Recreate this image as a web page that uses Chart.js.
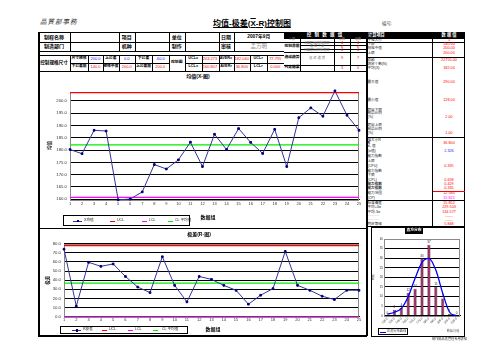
<!DOCTYPE html>
<html><head><meta charset="utf-8">
<script src="https://cdn.jsdelivr.net/npm/chart.js@4.4.0/dist/chart.umd.min.js"></script>
<style>
html,body{margin:0;padding:0;background:#fff;}
#page{position:relative;width:503px;height:356px;overflow:hidden;font-family:"Liberation Sans","Noto Sans CJK SC",sans-serif;color:#000;}
#page div{box-sizing:border-box;}
canvas{position:absolute;}
</style></head><body><div id="page">
<canvas id="cx" width="324" height="130" style="left:40px;top:86px;width:324px;height:130px"></canvas>
<canvas id="cr" width="324" height="92" style="left:40px;top:238px;width:324px;height:92px"></canvas>
<canvas id="ch" width="93" height="96" style="left:371px;top:234px;width:93px;height:96px"></canvas>
</div>
<script>
// ---------------- data ----------------
const sampleNo = ['1','2','3','4','5','6','7','8','9','10','11','12','13','14','15','16','17','18','19','20','21','22','23','24','25'];
const xbarValues = [180.2,178.5,188.0,187.7,159.8,160.1,163.0,174.1,172.3,176.0,183.2,173.3,186.4,180.2,188.7,183.1,178.6,188.4,173.3,193.1,197.1,193.7,204.0,194.1,188.0];
const xbarUCL = 203.273, xbarCL = 182.040, xbarLCL = 160.807;
const xbarTicks = [160,165,170,175,180,185,190,195,200];
const rangeValues = [73.9,11.6,59.5,55.1,57.7,44.0,32.4,26.4,65.6,34.3,16.2,44.0,40.8,34.3,28.9,13.7,23.5,30.7,71.4,34.3,28.9,22.4,18.8,28.9,28.9];
const rangeUCL = 77.795, rangeCL = 36.800, rangeLCL = 0;
const rangeTicks = [0,10,20,30,40,50,60,70,80];
const histBins = ['125.0','135.0','145.0','155.0','165.0','175.0','185.0','195.0','205.0','215.0','225.0'];
const histCounts = [0,3,4,12,14,30,37,15,9,1,0];
const normalCurve = [0.7,1.8,3.8,9.9,19.5,27.8,29.9,23.8,11.7,1.8,0];
const histTicks = [0,5,10,15,20,25,30,35,40];
const xLegendLabels = ['X均值','UCL','LCL','CL 平均值'];
const rLegendLabels = ['R极差','UCL','LCL','CL 平均值'];

// ---------------- layout helpers ----------------
const P = document.getElementById('page');
function el(x,y,w,h,html,css){const d=document.createElement('div');d.style.cssText=`position:absolute;left:${x}px;top:${y}px;width:${w}px;height:${h}px;${css||''}`;d.innerHTML=html||'';P.appendChild(d);return d;}
function hl(x1,x2,y,t,c){el(x1,y,x2-x1,t||1,'',`background:${c||'#000'}`);}
function vl(x,y1,y2,t,c){el(x,y1,t||1,y2-y1,'',`background:${c||'#000'}`);}
function tc(x1,y1,x2,y2,text,css){el(x1,y1,x2-x1,y2-y1,text,`display:flex;align-items:center;justify-content:center;white-space:nowrap;line-height:1;${css||''}`);}
function tl(x,y,text,css){el(x,y,80,5,text,`white-space:nowrap;line-height:1;${css||''}`);}
const B='font-weight:bold;font-size:5px;';
const R='font-size:4px;color:#f00;';
const BL='font-size:4px;color:#22f;';
const S='font-weight:bold;font-size:3.8px;';

// header
tl(40,19,'品質部事務','font-style:italic;font-size:6.5px;letter-spacing:1px;color:#333;');
tc(190,18,314,30,'<span style="text-decoration:underline">均值-极差(<span style="text-decoration:overline">X</span>-R)控制图</span>','font-weight:bold;font-size:8px;');
tl(382,22,'编号:','font-size:4.5px;color:#444;');

// left form table
hl(38,284,32);hl(38,284,42);hl(38,284,51);hl(38,284,55);hl(70,168.5,63);hl(185,284,63);
vl(38,32,336,1.5);
[70,118.5,135,168.5,185,218.5,233.5].forEach(x=>vl(x,32,51));
[70,88,103,118.5,135,152,168.5,185,201.5,218.5,233.5,250,266.5].forEach(x=>vl(x,55,71));
tc(38,32,70,42,'制程名称',B);tc(118.5,32,135,42,'项目',B);tc(168.5,32,185,42,'单位',B);tc(218.5,32,233.5,42,'日期',B);
tc(233.5,32,284,42,'2007年9月','font-weight:bold;font-size:4.8px;');
tc(38,42,70,51,'制造部门',B);tc(118.5,42,135,51,'机种',B);tc(168.5,42,185,51,'制作',B);tc(218.5,42,233.5,51,'审核',B);
tc(233.5,42,284,51,'孟万明','font-size:5.5px;color:#888;');
tc(38,55,70,71,'控制规格尺寸','font-weight:bold;font-size:4.6px;');
tc(70,55,88,63,'尺寸规格',S);tc(88,55,103,63,'200.0',BL);tc(103,55,118.5,63,'上公差',S);tc(118.5,55,135,63,'0.0',BL);
tc(135,55,152,63,'下公差',S);tc(152,55,168.5,63,'-60.0',BL);
tc(70,63,88,71,'下公差限',S);tc(88,63,103,71,'140.0',R);tc(103,63,118.5,71,'规格中值',S);tc(118.5,63,135,71,'200.0',R);
tc(135,63,152,71,'上公差限',S);tc(152,63,168.5,71,'200.0',R);
tc(168.5,55,185,71,'控制图',S);
tc(185,55,201.5,63,'UCLx',S);tc(201.5,55,218.5,63,xbarUCL.toFixed(3),R);tc(218.5,55,233.5,63,'AVERx',S);tc(233.5,55,250,63,xbarCL.toFixed(3),R);
tc(250,55,266.5,63,'UCLr',S);tc(266.5,55,284,63,rangeUCL.toFixed(3),R);
tc(185,63,201.5,71,'LCLx',S);tc(201.5,63,218.5,71,xbarLCL.toFixed(3),R);tc(218.5,63,233.5,71,'AVERr',S);tc(233.5,63,250,71,rangeCL.toFixed(3),R);
tc(250,63,266.5,71,'LCLr',S);tc(266.5,63,284,71,rangeLCL.toFixed(3),R);

// control data panel
el(284,32,82,6.5,'','background:#000');
tc(284,32,366,38.5,'控 制 数 据 组','font-weight:bold;font-size:4.5px;color:#fff;letter-spacing:1px;');
hl(284,366,41.5);hl(300,366,45);hl(300,366,48.5);hl(284,366,52);hl(284,366,64.5);hl(284,366,71);
[300,334,350].forEach(x=>vl(x,38.5,71));vl(366,32,336,1.5);
const G='font-size:3.3px;color:#777;';
tc(284,38.5,300,41.5,'上限',G);tc(334,38.5,350,41.5,'点数',G);tc(350,38.5,366,41.5,'组数',G);
tc(284,41.5,300,52,'控制界限',S);tc(284,52,300,64.5,'连续趋势',S);tc(284,64.5,300,71,'判定结果',S);
tc(300,41.5,334,45,'X图超出控制界限',G);tc(300,45,334,48.5,'连 续 7 点',G);tc(300,48.5,334,52,'R图超出控制界限',G);tc(300,52,334,64.5,'连 续 递 增',G);
[[41.5,45,'4','4'],[45,48.5,'6','6'],[48.5,52,'4','4'],[52,64.5,'9','7'],[64.5,71,'3','0']].forEach(r=>{tc(334,r[0],350,r[1],r[2],R);tc(350,r[0],366,r[1],r[3],R);});

// right calculation column
el(366,32,99,195,'','border:1px solid #000');
el(366,32,66,6.5,'','background:#000');el(433,32,32,6.5,'','background:#000');
tc(366,32,432,38.5,'计算项目','font-weight:bold;font-size:4.2px;color:#fff;justify-content:flex-start;padding-left:2px;');
tc(433,32,465,38.5,'数 据 值','font-weight:bold;font-size:4.2px;color:#fff;');
vl(432,32,227);hl(366,465,42);hl(366,465,56.5);hl(366,465,137);hl(366,465,200);
const rows=[[38.8,'子组大小','5'],[43,'下限','140.00'],[46.8,'规格中值','200.00'],[51.5,'上限','200.00'],[58.8,'总和','22755.00'],[62.5,'测定个数(N)',''],[66.8,'平均(X)','182.04'],
[80.5,'最大值','290.00'],[98.8,'最小值','128.00'],[108.5,'超出下限',''],[112.2,'制品比例',''],[116,'(%)','2.00'],[124,'超出上限',''],[127.7,'制品比例',''],[131.5,'(%)','1.00'],
[138.5,'组大小R',''],[141.5,'R̄','36.800'],[145.3,'d₂ 值',''],[150.2,'(σ值)','2.326'],[155,'能力指数',''],[160,'上限',''],[164.8,'(CPU)','0.335'],[169.5,'能力指数',''],[174,'下限',''],[178.5,'(CPL)','0.658'],
[182.7,'能力指数','0.429'],[186.6,'能力指数','0.335'],[191.5,'能力范围','12.580'],[196.5,'(CP)','15.821'],
[201.5,'标准偏差','15.852'],[206,'平均+3σ','229.503'],[210.5,'平均-3σ','134.577'],[215,'··········','------'],[219,'··········','------'],[222.8,'判定等级','5.848']];
rows.forEach((r,i)=>{const bold=(r[1]==='能力指数'&&r[0]>180)||r[1]==='R̄';
 tl(367.5,r[0],r[1],`font-size:3.6px;color:#222;${bold?'font-weight:bold;':''}`);
 if(r[2]){const col=r[2]==='2.326'?'#22f':(r[2]==='15.821'?'#f0f':'#f00');
  el(433,r[0],32,5,r[2],`text-align:center;white-space:nowrap;line-height:1;font-size:3.8px;color:${col};${r[0]===186.6?'border-bottom:1px solid #f00;':''}`);}});

// chart box
hl(38,366,71);hl(38,366,228);hl(38,367,335,1.5);
tc(182,73,214,80,'均值(X-图)',B);
tc(186,231,212,238,'极差(R-图)',B);
tc(198,214,218,221,'数据组',B);
tc(203,326,223,333,'数据组',B);

// histogram box
el(371,227,94,110,'','border:1px solid #000');
tc(405,228,423,234,'直方分布','background:#000;color:#fff;font-weight:bold;font-size:3.8px;');
tc(444,329,462,334,'数据分组','font-size:3.2px;color:#666;');
tl(432,337.5,'制作部品质管理专用表格','font-size:3.2px;color:#333;');

// ---------------- charts ----------------
Chart.defaults.font.family='"Liberation Sans","Noto Sans CJK SC",sans-serif';
Chart.defaults.animation=false;
const frame={id:'frame',beforeDatasetsDraw(c){const a=c.chartArea,x=c.ctx;x.save();x.strokeStyle='#8a8a8a';x.lineWidth=1;
 x.strokeRect(Math.round(a.left)+0.5,Math.round(a.top)+0.5,Math.round(a.right-a.left)-1,Math.round(a.bottom-a.top));x.restore();}};
function ctrlChart(id,vals,ucl,cl,lcl,ticks,ymin,ymax,yw,pad,xh,xpad,ytitle,tpad,labels){
 return new Chart(document.getElementById(id),{type:'line',
  data:{labels:sampleNo,datasets:[
   {label:labels[0],data:vals,borderColor:'#333399',borderWidth:1,pointStyle:'rect',pointRadius:1.2,pointBackgroundColor:'#000080',pointBorderColor:'#000080',clip:false,order:0},
   {label:labels[1],data:sampleNo.map(()=>ucl),borderColor:'#ff0000',borderWidth:1.3,pointRadius:0,order:1},
   {label:labels[2],data:sampleNo.map(()=>lcl),borderColor:'#ff00ff',borderWidth:1.3,pointRadius:0,order:1},
   {label:labels[3],data:sampleNo.map(()=>cl),borderColor:'#00ee00',borderWidth:1.3,pointRadius:0,order:1}]},
  options:{responsive:false,devicePixelRatio:1,layout:{padding:pad},
   plugins:{legend:{display:false},tooltip:{enabled:false}},
   scales:{
    x:{offset:false,grid:{display:false,drawTicks:false,tickLength:0},border:{color:'#000'},ticks:{font:{size:4},color:'#333',padding:xpad,maxRotation:0,autoSkip:false},afterFit:s=>{s.height=xh;}},
    y:{min:ymin,max:ymax,afterBuildTicks:s=>{s.ticks=ticks.map(v=>({value:v}));},
     ticks:{font:{size:4.3},color:'#333',padding:3,callback:v=>Number(v).toFixed(1)},
     grid:{color:'#000',lineWidth:1,drawTicks:false,tickLength:0},border:{display:false},
     title:{display:true,text:ytitle,font:{size:4.5,weight:'bold'},color:'#222',padding:{top:tpad,bottom:0}},
     afterFit:s=>{s.width=yw;}}}},
  plugins:[frame]});
}
const cx=ctrlChart('cx',xbarValues,xbarUCL,xbarCL,xbarLCL,xbarTicks,160,203.7,30,{top:4,right:5,left:0,bottom:0},16.7,2,'均值',7,xLegendLabels);
const cr=ctrlChart('cr',rangeValues,rangeUCL,rangeCL,rangeLCL,rangeTicks,0,80,24,{top:4.7,right:4,left:0,bottom:0},13.3,1,'极差',5,rLegendLabels);

const barLabels={id:'barLabels',afterDatasetsDraw(c){const ctx=c.ctx;const meta=c.getDatasetMeta(1);ctx.save();ctx.font='3px "Liberation Sans"';ctx.fillStyle='#222';ctx.textAlign='center';ctx.textBaseline='bottom';
 meta.data.forEach((b,i)=>ctx.fillText(String(histCounts[i]),b.x,b.y-1));ctx.restore();}};
const ch=new Chart(document.getElementById('ch'),{type:'bar',
 data:{labels:histBins,datasets:[
  {type:'line',label:'正态分布曲线',data:normalCurve,borderColor:'#0000ff',borderWidth:1.3,pointRadius:0,cubicInterpolationMode:'monotone',order:0},
  {type:'bar',label:'频数',data:histCounts,backgroundColor:'#993366',borderColor:'#3a1a2a',borderWidth:0.5,barPercentage:0.45,categoryPercentage:1,order:1}]},
 options:{responsive:false,devicePixelRatio:1,layout:{padding:{top:5,right:4,left:0,bottom:0}},
  plugins:{legend:{display:false},tooltip:{enabled:false}},
  scales:{
   x:{offset:true,grid:{display:false,drawTicks:false,tickLength:0},border:{color:'#000'},ticks:{font:{size:3},color:'#333',padding:1,minRotation:45,maxRotation:45,autoSkip:false},afterFit:s=>{s.height=14.3;}},
   y:{min:0,max:40,afterBuildTicks:s=>{s.ticks=histTicks.map(v=>({value:v}));},ticks:{font:{size:3},color:'#333',padding:1},
    grid:{color:'#000',lineWidth:1,drawTicks:false,tickLength:0},border:{display:false},
    title:{display:true,text:'频数',font:{size:3},color:'#444',padding:{top:0,bottom:0}},afterFit:s=>{s.width=13;}}}},
 plugins:[frame,barLabels]});

// ---------------- HTML legends built from the chart datasets ----------------
function legend(chart,box,lines,texts,y){
 el(box[0],box[1],box[2],box[3],'','border:1px solid #000');
 chart.data.datasets.forEach((d,i)=>{
  hl(lines[i][0],lines[i][0]+lines[i][1],y,1.2,d.borderColor);
  if(i===0&&d.pointStyle==='rect')el(lines[i][0]+lines[i][1]/2-1,y-0.6,2.4,2.4,'','background:#000080');
  tl(texts[i],y-1.8,d.label,'font-size:3.6px;color:#222;');});
}
legend(cx,[63,215,127,11],[[73,9],[110,5],[142,5],[168,5]],[84,117,149,175],220.5);
legend(cr,[60,326,128,8],[[72,9],[102,5],[128,5],[153,5]],[83,109,135,162],330);
el(378,328,30,7,'','border:1px solid #000');
hl(380,386,331.5,1.2,'#0000ff');
tl(387,329.7,ch.data.datasets[0].label,'font-size:3.2px;color:#444;');
</script></body></html>
